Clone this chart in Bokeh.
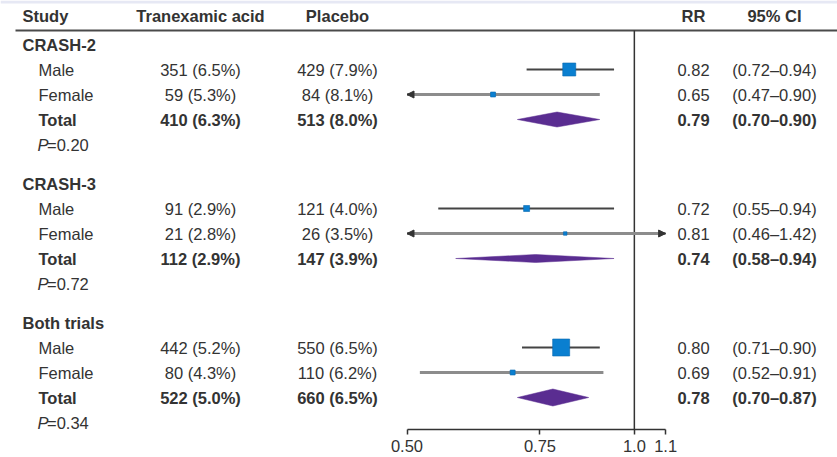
import math

from bokeh.core.properties import value
from bokeh.embed import file_html
from bokeh.models import (Arrow, ColumnDataSource, FixedTicker, LogAxis, LogScale,
                          NormalHead, Range1d)
from bokeh.plotting import figure
from bokeh.resources import INLINE

# ---- data -------------------------------------------------------------
groups = ["CRASH-2", "CRASH-3", "Both trials"]
subgroups = ["Male", "Female", "Total"]
txa_deaths = [["351 (6.5%)", "59 (5.3%)", "410 (6.3%)"],
              ["91 (2.9%)", "21 (2.8%)", "112 (2.9%)"],
              ["442 (5.2%)", "80 (4.3%)", "522 (5.0%)"]]
placebo_deaths = [["429 (7.9%)", "84 (8.1%)", "513 (8.0%)"],
                  ["121 (4.0%)", "26 (3.5%)", "147 (3.9%)"],
                  ["550 (6.5%)", "110 (6.2%)", "660 (6.5%)"]]
rr = [[0.82, 0.65, 0.79], [0.72, 0.81, 0.74], [0.80, 0.69, 0.78]]
ci_lo = [[0.72, 0.47, 0.70], [0.55, 0.46, 0.58], [0.71, 0.52, 0.70]]
ci_hi = [[0.94, 0.90, 0.90], [0.94, 1.42, 0.94], [0.90, 0.91, 0.87]]
p_values = ["0.20", "0.72", "0.34"]
axis_ticks = [0.50, 0.75, 1.0, 1.1]
axis_labels = ["0.50", "0.75", "1.0", "1.1"]
headers = ["Study", "Tranexamic acid", "Placebo", "RR", "95% CI"]

# ---- styling / layout -------------------------------------------------
W, H = 837, 457
FRAME_H = 429
FONT = value("Liberation Sans")
FS = "16.5px"
TXT = "#333333"
BLUE = "#0a7fd0"
PURPLE = "#5a2d91"
MALE_LINE = "#444444"
FEMALE_LINE = "#8c8c8c"
square_sizes = [[13, 5], [6, 3.5], [17, 5]]
diamond_heights = [15, 8, 17]
ROW, GAP, FIRST = 25, 14, 44
HEADER_Y, RULE_Y = 15, 30
COL_LABEL, COL_INDENT = 22, 38
COL_TXA, COL_PLA, COL_RR, COL_CI = 200, 337, 693, 774
AX_LO, AX_HI = axis_ticks[0], axis_ticks[-1]
# log axis: 0.50 sits 406.5 px from the left, 328 px per natural-log unit
X0_PX, PX_PER_LN = 406.5, 328.0
rr_start = AX_LO * math.exp(-X0_PX / PX_PER_LN)
rr_end = AX_LO * math.exp((W - X0_PX) / PX_PER_LN)

p = figure(width=W, height=H, x_range=Range1d(0, W), y_range=Range1d(FRAME_H, 0),
           output_backend="svg", toolbar_location=None,
           x_axis_location=None, y_axis_location=None, min_border=0,
           min_border_bottom=H - FRAME_H,
           outline_line_color=None, background_fill_color="white",
           border_fill_color="white")
p.grid.grid_line_color = None
p.extra_x_ranges = {"rr": Range1d(rr_start, rr_end)}
p.extra_x_scales = {"rr": LogScale()}

ax = LogAxis(x_range_name="rr", ticker=FixedTicker(ticks=axis_ticks),
             bounds=(AX_LO, AX_HI),
             major_label_overrides={t: l for t, l in zip(axis_ticks, axis_labels)},
             minor_tick_line_color=None, major_tick_in=0, major_tick_out=5,
             axis_line_color=TXT, axis_line_width=1.5,
             major_tick_line_color=TXT, major_tick_line_width=1.5,
             major_label_text_font="Liberation Sans", major_label_text_font_size=FS,
             major_label_text_color=TXT, major_label_standoff=5)
p.add_layout(ax, "below")

# top strip and header rule
p.quad(left=0, right=W, top=0, bottom=3, fill_color="#e6e8f4", line_color=None)
p.segment(x0=15, x1=W, y0=RULE_Y, y1=RULE_Y, line_color="#4a4a4a", line_width=2)
# line of no effect
p.segment(x0=1.0, x1=1.0, y0=RULE_Y, y1=FRAME_H, x_range_name="rr",
          line_color=TXT, line_width=1.5)

# header texts
hdr_x = [COL_LABEL, COL_TXA, COL_PLA, COL_RR, COL_CI]
hdr_align = ["left", "center", "center", "center", "center"]
p.text(x=hdr_x, y=[HEADER_Y] * 5, text=headers, text_align=hdr_align,
       text_baseline="middle", text_font=FONT, text_font_size=FS,
       text_font_style="bold", text_color=TXT)

reg = dict(x=[], y=[], text=[], align=[])
bold = dict(x=[], y=[], text=[], align=[])
ital = dict(x=[], y=[], text=[], align=[])
seg = dict(x0=[], x1=[], y=[], color=[], width=[])
sq = dict(x=[], y=[], size=[])
dia_xs, dia_ys = [], []
arrows = dict(xs=[], xe=[], y=[])


def put(d, x, y, t, a):
    d["x"].append(x)
    d["y"].append(y)
    d["text"].append(t)
    d["align"].append(a)


for g, name in enumerate(groups):
    base = FIRST + g * (5 * ROW + GAP)
    put(bold, COL_LABEL, base, name, "left")
    for s, sub in enumerate(subgroups):
        y = base + (s + 1) * ROW
        d = bold if sub == "Total" else reg
        put(d, COL_INDENT, y, sub, "left")
        put(d, COL_TXA, y, txa_deaths[g][s], "center")
        put(d, COL_PLA, y, placebo_deaths[g][s], "center")
        put(d, COL_RR, y, f"{rr[g][s]:.2f}", "center")
        put(d, COL_CI, y, f"({ci_lo[g][s]:.2f}\u2013{ci_hi[g][s]:.2f})", "center")
        lo, hi, est = ci_lo[g][s], ci_hi[g][s], rr[g][s]
        if sub == "Total":
            h = diamond_heights[g] / 2
            dia_xs.append([lo, est, hi, est])
            dia_ys.append([y, y - h, y, y + h])
            continue
        seg["x0"].append(max(lo, AX_LO))
        seg["x1"].append(min(hi, AX_HI))
        seg["y"].append(y)
        seg["color"].append(MALE_LINE if sub == "Male" else FEMALE_LINE)
        seg["width"].append(2 if sub == "Male" else 3)
        sq["x"].append(est)
        sq["y"].append(y)
        sq["size"].append(square_sizes[g][s])
        if lo < AX_LO:
            arrows["xs"].append(est)
            arrows["xe"].append(AX_LO)
            arrows["y"].append(y)
        if hi > AX_HI:
            arrows["xs"].append(est)
            arrows["xe"].append(AX_HI)
            arrows["y"].append(y)
    py = base + 4 * ROW
    put(ital, COL_INDENT - 1, py, "P", "left")
    put(reg, COL_INDENT + 8.5, py, "=" + p_values[g], "left")

for d, style in ((reg, "normal"), (bold, "bold"), (ital, "italic")):
    p.text(x="x", y="y", text="text", text_align="align", source=ColumnDataSource(d),
           text_baseline="middle", text_font=FONT, text_font_size=FS,
           text_font_style=style, text_color=TXT)

p.segment(x0="x0", x1="x1", y0="y", y1="y", line_color="color", line_width="width",
          source=ColumnDataSource(seg), x_range_name="rr")
p.add_layout(Arrow(end=NormalHead(size=7, fill_color="#333333", line_color="#333333"),
                   x_start="xs", x_end="xe", y_start="y", y_end="y",
                   line_alpha=0, source=ColumnDataSource(arrows), x_range_name="rr"))
p.scatter(x="x", y="y", size="size", marker="square", fill_color=BLUE,
          line_color="#0868b0", line_width=0.6, source=ColumnDataSource(sq),
          x_range_name="rr")
p.patches(xs=dia_xs, ys=dia_ys, fill_color=PURPLE, line_color=PURPLE, line_width=0.5,
          x_range_name="rr")

open("out.html", "w").write(file_html(p, INLINE))
